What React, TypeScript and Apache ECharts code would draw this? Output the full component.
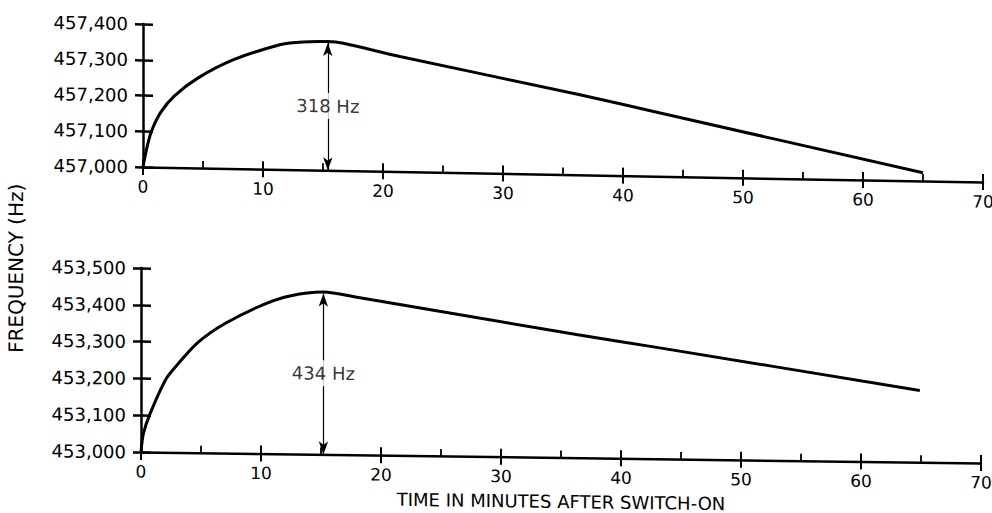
import React, { useEffect, useRef } from "react";
import * as echarts from "echarts";

// ---------- data ----------
const xTickValues = [0, 10, 20, 30, 40, 50, 60, 70];
const topTickValues = [457000, 457100, 457200, 457300, 457400];
const bottomTickValues = [453000, 453100, 453200, 453300, 453400, 453500];

const topTime = [0, 0.3, 0.7, 1.5, 2.6, 4.5, 7.5, 11.4, 13, 15.4, 16.7, 21.4, 36.4, 43.1, 65];
const topFreq = [457000, 457050, 457100, 457155, 457200, 457250, 457304, 457349, 457357, 457360, 457356, 457322, 457224, 457177, 457023];

const bottomTime = [0, 0.2, 0.75, 2.1, 3.2, 4.75, 7, 10.2, 12.5, 15.2, 18, 36.4, 43.1, 64.9];
const bottomFreq = [453000, 453050, 453104, 453200, 453245, 453300, 453352, 453405, 453430, 453441, 453428, 453334, 453302, 453195];

const topRiseLabel = "318 Hz";
const bottomRiseLabel = "434 Hz";
const topArrowTime = 15.4;
const bottomArrowTime = 15.2;

const xTitle = "TIME IN MINUTES AFTER SWITCH-ON";
const yTitle = "FREQUENCY (Hz)";

// ---------- helpers ----------
const FONT = "DejaVu Sans";
const BLACK = "#000";

const fmt = (v: number) => {
  const k = Math.floor(v / 1000);
  const r = String(Math.round(v % 1000)).padStart(3, "0");
  return `${k},${r}`;
};

function buildOption(opts: {
  grid: any;
  yTicks: number[];
  time: number[];
  freq: number[];
  arrowTime: number;
  riseLabel: string;
  xName?: string;
  extraGraphic?: any[];
}) {
  const { grid, yTicks, time, freq, arrowTime, riseLabel } = opts;
  const yMin = yTicks[0];
  const yMax = yTicks[yTicks.length - 1];
  const yInt = yTicks[1] - yTicks[0];
  const xMin = xTickValues[0];
  const xMax = xTickValues[xTickValues.length - 1];
  const xInt = xTickValues[1] - xTickValues[0];
  const peak = Math.max(...freq);
  const labelY = yMin + (peak - yMin) / 2;

  return {
    animation: false,
    backgroundColor: "transparent",
    textStyle: { fontFamily: FONT },
    grid: { ...grid, outerBoundsMode: "none", containLabel: false },
    xAxis: [
      {
        type: "value",
        position: "bottom",
        min: xMin,
        max: xMax,
        interval: xInt,
        axisLine: { show: true, lineStyle: { color: BLACK, width: 2.5 } },
        axisTick: { show: true, inside: true, length: 8, lineStyle: { color: BLACK, width: 2 } },
        minorTick: { show: true, splitNumber: 2, length: 7, lineStyle: { color: BLACK, width: 1.8 } },
        axisLabel: { show: false },
        splitLine: { show: false },
        minorSplitLine: { show: false },
      },
      {
        type: "value",
        position: "bottom",
        offset: 0,
        min: xMin,
        max: xMax,
        interval: xInt,
        axisLine: { show: false },
        axisTick: { show: true, inside: false, length: 8, lineStyle: { color: BLACK, width: 2 } },
        axisLabel: { show: true, margin: 11, fontSize: 17, color: BLACK, fontFamily: FONT },
        splitLine: { show: false },
        name: opts.xName || "",
        nameLocation: "middle",
        nameGap: 35,
        nameTextStyle: { fontSize: 18, color: BLACK, fontFamily: FONT },
      },
    ],
    yAxis: [
      {
        type: "value",
        position: "left",
        min: yMin,
        max: yMax,
        interval: yInt,
        axisLine: { show: true, lineStyle: { color: BLACK, width: 2.5 } },
        axisTick: { show: true, inside: false, length: 8, lineStyle: { color: BLACK, width: 2.5 } },
        axisLabel: {
          show: true,
          margin: 15,
          fontSize: 18,
          color: BLACK,
          fontFamily: FONT,
          formatter: (v: number) => fmt(v),
        },
        splitLine: { show: false },
      },
      {
        type: "value",
        position: "left",
        offset: 0,
        min: yMin,
        max: yMax,
        interval: yInt,
        axisLine: { show: false },
        axisTick: { show: true, inside: true, length: 10, lineStyle: { color: BLACK, width: 2.5 } },
        axisLabel: { show: false },
        splitLine: { show: false },
      },
    ],
    graphic: opts.extraGraphic || [],
    series: [
      {
        type: "line",
        xAxisIndex: 0,
        yAxisIndex: 0,
        data: time.map((t, i) => [t, freq[i]]),
        smooth: 0.3,
        showSymbol: false,
        symbol: "none",
        lineStyle: { color: BLACK, width: 3 },
        emphasis: { disabled: true },
        z: 3,
        markLine: {
          silent: true,
          symbol: ["arrow", "arrow"],
          symbolSize: [7, 13],
          label: { show: false },
          lineStyle: { color: BLACK, width: 1.2, type: "solid" },
          emphasis: { disabled: true },
          data: [[{ coord: [arrowTime, yMin] }, { coord: [arrowTime, peak - 4] }]],
        },
      },
      {
        type: "scatter",
        xAxisIndex: 0,
        yAxisIndex: 0,
        data: [[arrowTime, labelY]],
        symbolSize: 0,
        z: 10,
        silent: true,
        label: {
          show: true,
          position: "inside",
          formatter: riseLabel,
          fontSize: 18,
          color: BLACK,
          fontFamily: FONT,
          backgroundColor: "#fff",
          padding: [4, 1],
        },
      },
    ],
  };
}

function Chart({ option, style }: { option: any; style: React.CSSProperties }) {
  const ref = useRef<HTMLDivElement>(null);
  useEffect(() => {
    const chart = echarts.init(ref.current as HTMLDivElement, null, { renderer: "svg" });
    chart.setOption(option);
    return () => chart.dispose();
  }, []);
  return <div ref={ref} style={style} />;
}

export default function App() {
  const topOption = buildOption({
    grid: { left: 143, right: 9, top: 24, bottom: 346 },
    yTicks: topTickValues,
    time: topTime,
    freq: topFreq,
    arrowTime: topArrowTime,
    riseLabel: topRiseLabel,
  });
  const bottomOption = buildOption({
    grid: { left: 141, right: 11, top: 268, bottom: 61 },
    yTicks: bottomTickValues,
    time: bottomTime,
    freq: bottomFreq,
    arrowTime: bottomArrowTime,
    riseLabel: bottomRiseLabel,
    xName: xTitle,
    extraGraphic: [
      {
        type: "text",
        x: 16,
        y: 270,
        rotation: Math.PI / 2,
        style: {
          text: yTitle,
          fontSize: 20,
          fontFamily: FONT,
          fill: BLACK,
          align: "center",
          verticalAlign: "middle",
        },
      },
    ],
  });

  const base: React.CSSProperties = {
    position: "absolute",
    left: 0,
    top: 0,
    width: 992,
    height: 513,
  };

  return (
    <div style={{ position: "fixed", left: 0, top: 0, width: 992, height: 513, background: "#fff", overflow: "hidden" }}>
      <Chart
        option={topOption}
        style={{ ...base, transform: "skewY(1.03deg)", transformOrigin: "143px 167px" }}
      />
      <Chart
        option={bottomOption}
        style={{ ...base, transform: "skewY(0.75deg)", transformOrigin: "141px 452px" }}
      />
    </div>
  );
}
